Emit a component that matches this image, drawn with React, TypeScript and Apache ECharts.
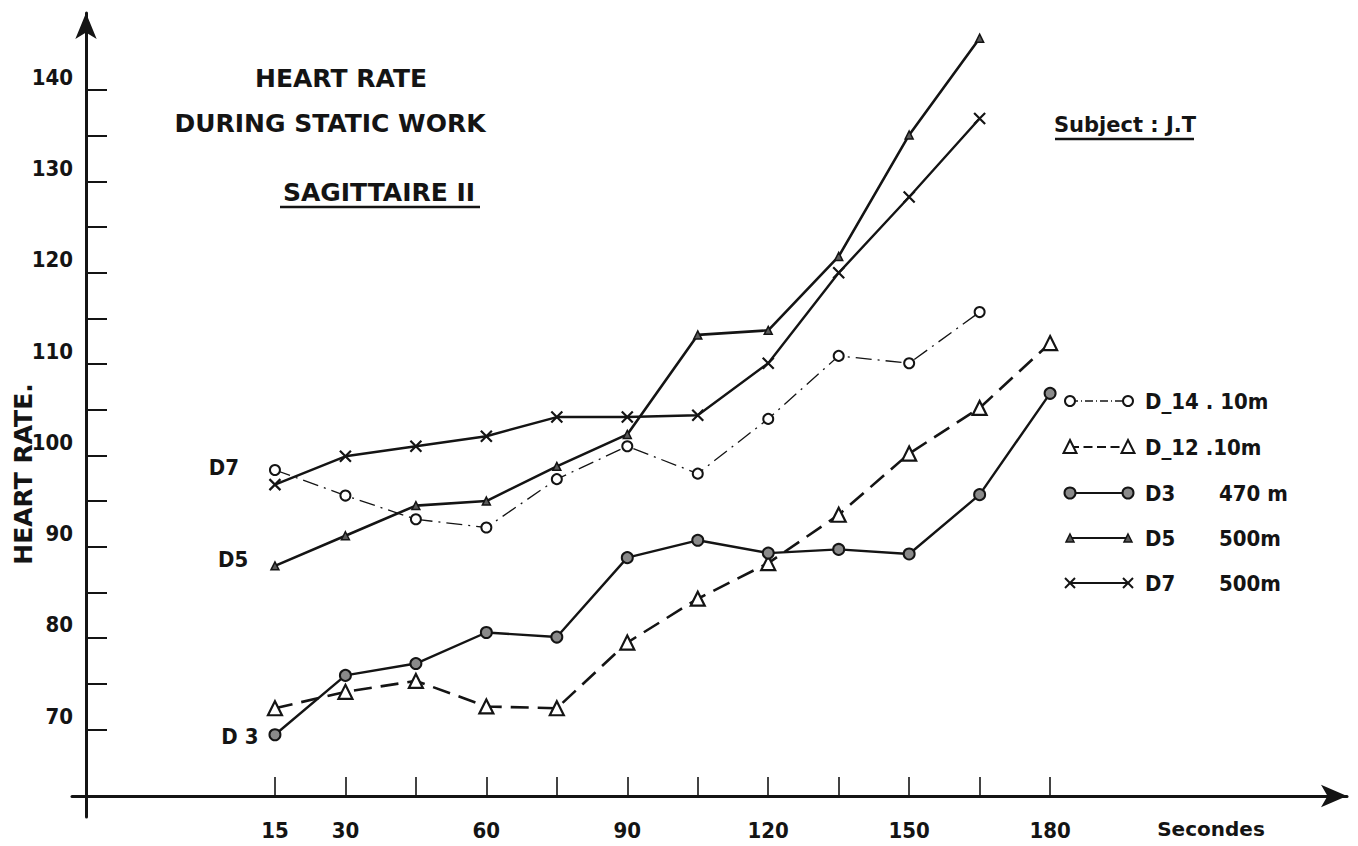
import React, { useEffect, useRef } from 'react';
import * as echarts from 'echarts';

// Elapsed time of static work (s)
const seconds = [15, 30, 45, 60, 75, 90, 105, 120, 135, 150, 165, 180];

// Heart rate (beats/min) per dive
const d14 = [98.4, 95.6, 93.0, 92.1, 97.4, 101.0, 98.0, 104.0, 110.9, 110.1, 115.7];
const d12 = [72.3, 74.1, 75.3, 72.5, 72.3, 79.5, 84.3, 88.2, 93.5, 100.2, 105.2, 112.3];
const d3 = [69.4, 75.9, 77.2, 80.6, 80.1, 88.8, 90.7, 89.3, 89.7, 89.2, 95.7, 106.8];
const d5 = [87.9, 91.2, 94.5, 95.0, 98.8, 102.3, 113.2, 113.7, 121.8, 135.1, 145.7];
const d7 = [96.8, 99.9, 101.0, 102.1, 104.2, 104.2, 104.4, 110.1, 120.0, 128.3, 136.9];

// Axis ticks and labels
const xTickValues = [15, 30, 45, 60, 75, 90, 105, 120, 135, 150, 165, 180];
const xLabelValues = [15, 30, 60, 90, 120, 150, 180];
const yTickValues = [70, 75, 80, 85, 90, 95, 100, 105, 110, 115, 120, 125, 130, 135, 140];
const yLabelValues = [70, 80, 90, 100, 110, 120, 130, 140];

// Legend texts
const legendNames = ['D_14 . 10m', 'D_12 .10m', 'D3', 'D5', 'D7'];
const legendDepths = ['', '', '470 m', '500m', '500m'];

const INK = '#141414';
const CONDENSED = "'DejaVu Sans Condensed', 'DejaVu Sans', sans-serif";
const WIDE = "'DejaVu Sans', sans-serif";
const CROSS = 'path://M0,0L10,10M10,0L0,10';

type Marker = 'openCircle' | 'openTriangle' | 'dot' | 'smallTriangle' | 'cross';

interface SeriesStyle {
  name: string;
  values: number[];
  marker: Marker;
  width: number;
  dash: number[] | 'solid';
  startLabel?: { text: string; distance: number; offset: [number, number] };
}

const seriesStyles: SeriesStyle[] = [
  { name: 'D_14 . 10m', values: d14, marker: 'openCircle', width: 1.3, dash: [16, 6, 2, 6] },
  { name: 'D_12 .10m', values: d12, marker: 'openTriangle', width: 2.6, dash: [18, 9] },
  { name: 'D3 470 m', values: d3, marker: 'dot', width: 2.4, dash: 'solid', startLabel: { text: 'D 3', distance: 10, offset: [0, 2] } },
  { name: 'D5 500m', values: d5, marker: 'smallTriangle', width: 2.6, dash: 'solid', startLabel: { text: 'D5', distance: 22, offset: [0, -6] } },
  { name: 'D7 500m', values: d7, marker: 'cross', width: 2.4, dash: 'solid', startLabel: { text: 'D7', distance: 28, offset: [0, -17] } },
];

function symbolFor(marker: Marker) {
  switch (marker) {
    case 'openCircle':
      return { symbol: 'circle', symbolSize: 10, itemStyle: { color: '#ffffff', borderColor: INK, borderWidth: 2 } };
    case 'openTriangle':
      return { symbol: 'triangle', symbolSize: 14, itemStyle: { color: '#ffffff', borderColor: INK, borderWidth: 2.2 } };
    case 'dot':
      return { symbol: 'circle', symbolSize: 11, itemStyle: { color: '#8a8a8a', borderColor: INK, borderWidth: 2 } };
    case 'smallTriangle':
      return { symbol: 'triangle', symbolSize: 8, itemStyle: { color: '#5a5a5a', borderColor: INK, borderWidth: 1.5 } };
    default:
      return { symbol: CROSS, symbolSize: 11, itemStyle: { color: 'none', borderColor: INK, borderWidth: 2.2 } };
  }
}

function buildSeries(s: SeriesStyle) {
  const data = s.values.map((v, i) => {
    if (i === 0 && s.startLabel) {
      return {
        value: [seconds[i], v],
        label: {
          show: true,
          formatter: s.startLabel.text,
          position: 'left',
          distance: s.startLabel.distance,
          offset: s.startLabel.offset,
          color: INK,
          fontFamily: CONDENSED,
          fontWeight: 'bold',
          fontSize: 22,
        },
      };
    }
    return [seconds[i], v];
  });
  return {
    type: 'line',
    name: s.name,
    data,
    color: INK,
    showSymbol: true,
    silent: true,
    emphasis: { disabled: true },
    lineStyle: { color: INK, width: s.width, type: s.dash },
    ...symbolFor(s.marker),
  };
}

// Small marker drawn by the graphic component for the legend samples
function legendMarker(marker: Marker, cx: number, cy: number): any {
  switch (marker) {
    case 'openCircle':
      return { type: 'circle', shape: { cx, cy, r: 5 }, style: { fill: '#fff', stroke: INK, lineWidth: 2 } };
    case 'dot':
      return { type: 'circle', shape: { cx, cy, r: 5.5 }, style: { fill: '#8a8a8a', stroke: INK, lineWidth: 2 } };
    case 'openTriangle':
      return {
        type: 'polygon',
        shape: { points: [[cx, cy - 7], [cx + 6.5, cy + 6], [cx - 6.5, cy + 6]] },
        style: { fill: '#fff', stroke: INK, lineWidth: 2 },
      };
    case 'smallTriangle':
      return {
        type: 'polygon',
        shape: { points: [[cx, cy - 4], [cx + 4, cy + 4], [cx - 4, cy + 4]] },
        style: { fill: '#5a5a5a', stroke: INK, lineWidth: 1.5 },
      };
    default:
      return {
        type: 'group',
        children: [
          { type: 'line', shape: { x1: cx - 5, y1: cy - 5, x2: cx + 5, y2: cy + 5 }, style: { stroke: INK, lineWidth: 2 } },
          { type: 'line', shape: { x1: cx + 5, y1: cy - 5, x2: cx - 5, y2: cy + 5 }, style: { stroke: INK, lineWidth: 2 } },
        ],
      };
  }
}

function buildLegend(): any[] {
  const rowsY = [401, 447, 493, 538, 583];
  const x1 = 1070;
  const x2 = 1128;
  const out: any[] = [];
  seriesStyles.forEach((s, i) => {
    const y = rowsY[i];
    out.push({
      type: 'line',
      shape: { x1, y1: y, x2, y2: y },
      style: { stroke: INK, lineWidth: Math.min(s.width, 2), lineDash: s.dash === 'solid' ? null : s.dash.map((d) => d * 0.5) },
    });
    out.push(legendMarker(s.marker, x1, y));
    out.push(legendMarker(s.marker, x2, y));
    out.push({
      type: 'text',
      x: 1145,
      y,
      style: { text: legendNames[i], font: `bold 22px ${CONDENSED}`, fill: INK, align: 'left', verticalAlign: 'middle' },
    });
    if (legendDepths[i]) {
      out.push({
        type: 'text',
        x: 1219,
        y,
        style: { text: legendDepths[i], font: `bold 22px ${CONDENSED}`, fill: INK, align: 'left', verticalAlign: 'middle' },
      });
    }
  });
  return out;
}

function buildTitles(): any[] {
  const titleFont = `bold 25px ${WIDE}`;
  return [
    { type: 'text', x: 341, y: 78, style: { text: 'HEART RATE', font: titleFont, fill: INK, align: 'center', verticalAlign: 'middle' } },
    { type: 'text', x: 330, y: 123, style: { text: 'DURING STATIC WORK', font: titleFont, fill: INK, align: 'center', verticalAlign: 'middle' } },
    { type: 'text', x: 379, y: 192, style: { text: 'SAGITTAIRE II', font: titleFont, fill: INK, align: 'center', verticalAlign: 'middle' } },
    { type: 'line', shape: { x1: 280, y1: 207, x2: 480, y2: 207 }, style: { stroke: INK, lineWidth: 2.5 } },
    { type: 'text', x: 1125, y: 125, style: { text: 'Subject : J.T', font: `bold 21px ${WIDE}`, fill: INK, align: 'center', verticalAlign: 'middle' } },
    { type: 'line', shape: { x1: 1055, y1: 139, x2: 1194, y2: 139 }, style: { stroke: INK, lineWidth: 2.5 } },
    {
      type: 'text',
      x: 23,
      y: 474,
      rotation: Math.PI / 2,
      style: { text: 'HEART RATE.', font: `bold 25px ${WIDE}`, fill: INK, align: 'center', verticalAlign: 'middle' },
    },
    { type: 'text', x: 1211, y: 829, style: { text: 'Secondes', font: `bold 20px ${WIDE}`, fill: INK, align: 'center', verticalAlign: 'middle' } },
  ];
}

export default function App() {
  const ref = useRef<HTMLDivElement>(null);

  useEffect(() => {
    if (!ref.current) return;
    const chart = echarts.init(ref.current, undefined, { renderer: 'svg' });

    const axisLabelBase = { color: INK, fontFamily: CONDENSED, fontWeight: 'bold', fontSize: 22 };

    chart.setOption({
      animation: false,
      backgroundColor: '#ffffff',
      grid: { left: 72, right: 11, top: 13, bottom: 29, containLabel: false },
      xAxis: {
        type: 'value',
        min: -28.2,
        max: 243.2,
        offset: -21,
        splitLine: { show: false },
        axisLine: { show: true, onZero: false, lineStyle: { color: INK, width: 3 }, symbol: ['none', 'arrow'], symbolSize: [17, 26] },
        axisTick: { show: true, inside: true, length: 19, lineStyle: { color: INK, width: 1.6 }, customValues: xTickValues },
        axisLabel: { ...axisLabelBase, margin: 23, customValues: xLabelValues },
      },
      yAxis: {
        type: 'value',
        min: 60.39,
        max: 148.46,
        offset: -14,
        splitLine: { show: false },
        axisLine: { show: true, onZero: false, lineStyle: { color: INK, width: 3 }, symbol: ['none', 'arrow'], symbolSize: [16, 26] },
        axisTick: { show: true, inside: true, length: 21, lineStyle: { color: INK, width: 2 }, customValues: yTickValues },
        axisLabel: { ...axisLabelBase, margin: 13, verticalAlign: 'bottom', lineHeight: 26, customValues: yLabelValues },
      },
      series: seriesStyles.map(buildSeries),
      graphic: [...buildTitles(), ...buildLegend()],
    });

    return () => chart.dispose();
  }, []);

  return (
    <div
      ref={ref}
      style={{ position: 'absolute', left: 0, top: 0, width: '1358px', height: '846px', background: '#fff' }}
    />
  );
}
